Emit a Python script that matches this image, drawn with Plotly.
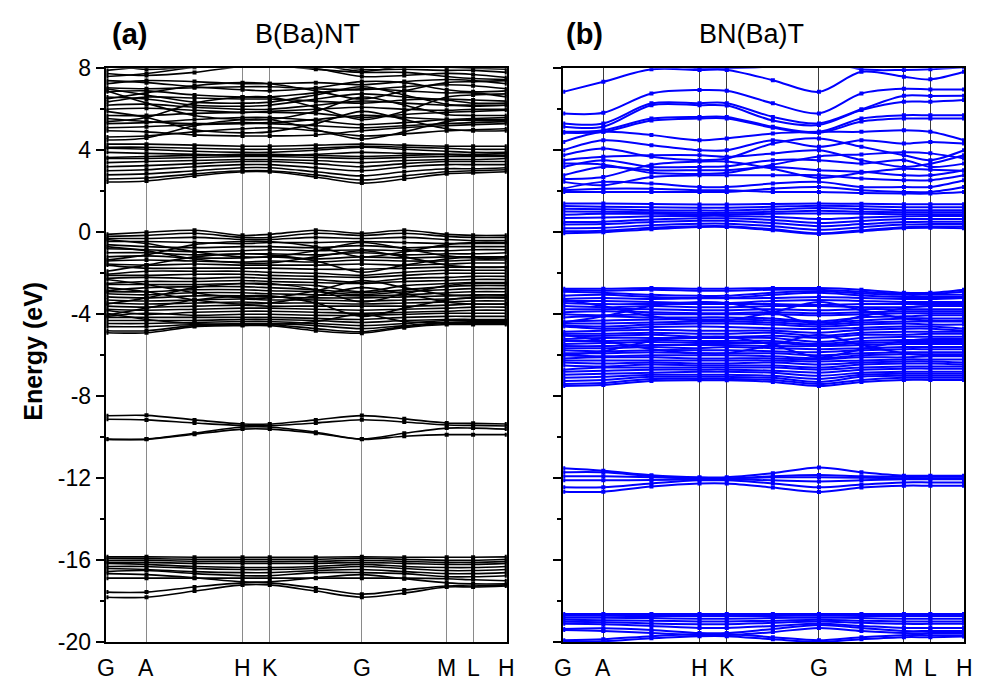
import plotly.graph_objects as go

# ---------------------------------------------------------------------------
# k-path: node positions along the path (fraction of total length)
# nodes: G, A, (A-H), H, K, (K-G), G, (G-M), M, L, H
# ---------------------------------------------------------------------------
K_NODES = [0.0, 0.10, 0.22, 0.34, 0.408, 0.523, 0.638, 0.744, 0.85, 0.916, 1.0]
SYM_POS = [0.0, 0.10, 0.34, 0.408, 0.638, 0.85, 0.916, 1.0]
SYM_LABELS = ["G", "A", "H", "K", "G", "M", "L", "H"]

Y_TICKS = [8, 4, 0, -4, -8, -12, -16, -20]
Y_LABELS = ["8", "4", "0", "-4", "-8", "-12", "-16", "-20"]
Y_MINOR = [6, 2, -2, -6, -10, -14, -18]

# ---------------------------------------------------------------------------
# (a) B(Ba)NT  -- band energies (eV) at the k-path nodes
# ---------------------------------------------------------------------------
A_COND = [
    [2.45, 2.5, 2.75, 2.95, 2.95, 2.7, 2.4, 2.6, 2.85, 2.9, 2.95],
    [2.6, 2.65, 2.85, 3.0, 3.0, 2.8, 2.55, 2.75, 2.95, 3.0, 3.05],
    [2.8, 2.85, 3.0, 3.15, 3.15, 2.95, 2.75, 2.95, 3.1, 3.1, 3.15],
    [3.0, 3.05, 3.2, 3.3, 3.3, 3.15, 3.0, 3.2, 3.3, 3.3, 3.3],
    [3.2, 3.25, 3.35, 3.45, 3.45, 3.35, 3.2, 3.35, 3.45, 3.45, 3.45],
    [3.4, 3.45, 3.5, 3.55, 3.55, 3.5, 3.4, 3.5, 3.55, 3.55, 3.6],
    [3.6, 3.6, 3.65, 3.7, 3.7, 3.65, 3.6, 3.65, 3.7, 3.7, 3.7],
    [3.65, 3.7, 3.75, 3.8, 3.8, 3.75, 3.7, 3.75, 3.8, 3.8, 3.85],
    [3.9, 3.85, 3.8, 3.75, 3.75, 3.8, 3.9, 3.85, 3.8, 3.75, 3.75],
    [4.1, 4.05, 3.95, 3.9, 3.9, 4.0, 4.15, 4.05, 3.95, 3.9, 3.9],
    [4.15, 4.15, 4.1, 4.05, 4.05, 4.1, 4.2, 4.15, 4.1, 4.05, 4.05],
    [4.3, 4.3, 4.25, 4.2, 4.2, 4.25, 4.3, 4.25, 4.2, 4.2, 4.2],
    [4.65, 4.7, 4.9, 5.05, 5.1, 4.95, 4.7, 4.8, 4.95, 5.0, 5.05],
    [4.95, 4.9, 4.75, 4.7, 4.7, 4.75, 4.95, 5.1, 5.2, 5.25, 5.3],
    [5.1, 5.15, 5.25, 5.3, 5.3, 5.2, 5.1, 5.2, 5.3, 5.35, 5.4],
    [5.3, 5.35, 5.5, 5.6, 5.6, 5.45, 5.25, 5.35, 5.5, 5.55, 5.6],
    [5.55, 5.4, 5.3, 5.35, 5.35, 5.5, 5.7, 5.6, 5.5, 5.45, 5.45],
    [5.7, 5.7, 5.8, 5.85, 5.85, 5.8, 5.6, 5.75, 5.85, 5.9, 5.95],
    [6.0, 6.05, 5.95, 5.85, 5.9, 6.0, 6.1, 6.0, 5.95, 6.0, 6.0],
    [6.2, 6.25, 6.1, 6.0, 6.0, 6.2, 6.4, 6.3, 6.2, 6.15, 6.2],
    [6.35, 6.6, 6.55, 6.5, 6.5, 6.4, 6.3, 6.45, 6.5, 6.45, 6.4],
    [6.6, 6.5, 6.2, 6.15, 6.2, 6.5, 6.75, 6.6, 6.45, 6.3, 6.3],
    [6.85, 6.9, 6.7, 6.6, 6.6, 6.8, 7.0, 6.9, 6.8, 6.8, 6.6],
    [7.05, 7.0, 7.05, 7.1, 7.1, 7.0, 6.95, 7.1, 7.2, 7.15, 7.0],
    [7.25, 7.4, 7.35, 7.25, 7.25, 7.3, 7.2, 7.35, 7.45, 7.4, 7.25],
    [7.4, 7.3, 7.1, 6.95, 6.9, 7.05, 7.35, 7.3, 6.95, 6.85, 6.9],
    [7.6, 7.75, 8.05, 8.3, 8.3, 8.0, 7.6, 7.65, 7.75, 7.7, 7.55],
    [7.75, 7.65, 7.8, 8.1, 8.15, 7.95, 7.8, 7.8, 7.6, 7.5, 7.45],
    [7.9, 8.1, 8.4, 8.6, 8.6, 8.3, 7.95, 7.95, 7.9, 7.9, 7.8],
    [8.2, 7.95, 8.1, 8.4, 8.45, 8.2, 7.85, 8.1, 8.05, 8.0, 7.95],
    [4.5, 4.6, 5.2, 5.5, 5.5, 5.0, 4.55, 4.9, 5.4, 5.5, 5.5],
    [5.9, 5.6, 5.0, 4.85, 4.9, 5.3, 5.9, 5.5, 5.05, 4.95, 4.95],
    [6.5, 6.8, 7.15, 7.3, 7.25, 6.9, 6.5, 6.9, 7.3, 7.35, 7.4],
    [7.0, 6.7, 6.35, 6.3, 6.35, 6.7, 7.1, 6.7, 6.25, 6.2, 6.2],
    [5.4, 5.6, 6.3, 6.6, 6.6, 6.1, 5.5, 5.9, 6.6, 6.7, 6.75],
    [6.9, 6.3, 5.7, 5.5, 5.5, 5.9, 6.6, 6.2, 5.75, 5.7, 5.7],
]

A_VAL = [
    [-0.1, 0.0, 0.1, -0.15, -0.1, 0.1, -0.05, 0.1, -0.1, -0.15, -0.15],
    [-0.2, -0.15, -0.05, -0.25, -0.25, -0.05, -0.15, -0.05, -0.2, -0.25, -0.25],
    [-0.3, -0.3, -0.25, -0.35, -0.35, -0.25, -0.3, -0.25, -0.35, -0.4, -0.4],
    [-0.45, -0.45, -0.5, -0.55, -0.5, -0.5, -0.45, -0.5, -0.55, -0.55, -0.55],
    [-0.6, -0.7, -0.75, -0.7, -0.7, -0.75, -0.65, -0.75, -0.7, -0.7, -0.7],
    [-0.8, -0.85, -0.95, -0.9, -0.85, -0.9, -0.85, -0.9, -0.9, -0.85, -0.85],
    [-1.0, -1.0, -1.1, -1.05, -1.05, -1.1, -1.0, -1.1, -1.05, -1.05, -1.0],
    [-1.2, -1.15, -1.25, -1.25, -1.2, -1.3, -1.2, -1.25, -1.2, -1.2, -1.2],
    [-1.4, -1.35, -1.4, -1.45, -1.4, -1.45, -1.35, -1.4, -1.4, -1.35, -1.35],
    [-1.55, -1.6, -1.55, -1.6, -1.6, -1.6, -1.55, -1.6, -1.55, -1.5, -1.5],
    [-1.6, -1.75, -1.75, -1.75, -1.75, -1.8, -1.8, -1.75, -1.7, -1.7, -1.7],
    [-2.05, -1.9, -1.9, -1.9, -1.95, -2.0, -2.1, -1.95, -1.85, -1.85, -1.85],
    [-2.1, -2.1, -2.05, -2.05, -2.1, -2.15, -2.2, -2.1, -2.0, -2.0, -2.0],
    [-2.25, -2.2, -2.25, -2.2, -2.25, -2.3, -2.45, -2.25, -2.2, -2.15, -2.15],
    [-2.5, -2.4, -2.4, -2.35, -2.4, -2.45, -2.5, -2.4, -2.35, -2.3, -2.3],
    [-2.55, -2.55, -2.55, -2.5, -2.55, -2.6, -2.9, -2.6, -2.5, -2.45, -2.45],
    [-2.85, -2.7, -2.65, -2.65, -2.7, -2.8, -2.95, -2.8, -2.65, -2.6, -2.6],
    [-2.9, -2.9, -2.8, -2.8, -2.85, -2.9, -3.05, -2.9, -2.8, -2.75, -2.75],
    [-3.0, -3.05, -2.95, -2.95, -3.0, -3.05, -3.1, -3.05, -2.95, -2.9, -2.9],
    [-3.15, -3.2, -3.1, -3.1, -3.15, -3.2, -3.2, -3.15, -3.1, -3.05, -3.05],
    [-3.3, -3.35, -3.3, -3.25, -3.3, -3.3, -3.35, -3.3, -3.25, -3.2, -3.2],
    [-3.45, -3.5, -3.45, -3.4, -3.45, -3.45, -3.5, -3.45, -3.4, -3.35, -3.35],
    [-3.6, -3.65, -3.6, -3.55, -3.6, -3.6, -3.6, -3.6, -3.55, -3.5, -3.5],
    [-3.75, -3.8, -3.75, -3.7, -3.7, -3.75, -3.8, -3.75, -3.7, -3.65, -3.65],
    [-3.8, -4.0, -3.9, -3.85, -3.85, -3.9, -3.95, -3.9, -3.85, -3.8, -3.8],
    [-4.1, -3.95, -4.05, -4.0, -4.0, -4.05, -4.05, -4.0, -3.95, -3.95, -3.95],
    [-4.15, -4.15, -4.15, -4.15, -4.15, -4.2, -4.25, -4.15, -4.1, -4.1, -4.1],
    [-4.3, -4.3, -4.3, -4.25, -4.25, -4.3, -4.4, -4.3, -4.25, -4.25, -4.25],
    [-4.45, -4.45, -4.4, -4.35, -4.35, -4.45, -4.55, -4.45, -4.3, -4.3, -4.3],
    [-4.6, -4.6, -4.5, -4.45, -4.45, -4.55, -4.7, -4.55, -4.4, -4.4, -4.4],
    [-4.8, -4.8, -4.55, -4.5, -4.5, -4.7, -4.85, -4.6, -4.45, -4.45, -4.45],
    [-4.9, -4.9, -4.6, -4.55, -4.55, -4.8, -4.92, -4.65, -4.5, -4.5, -4.5],
    [-0.7, -0.9, -1.3, -1.5, -1.5, -1.2, -0.9, -1.2, -1.6, -1.7, -1.7],
    [-1.9, -1.6, -1.2, -1.05, -1.1, -1.4, -1.95, -1.6, -1.3, -1.2, -1.2],
    [-2.7, -2.9, -3.3, -3.5, -3.45, -3.1, -2.7, -3.0, -3.4, -3.5, -3.5],
    [-3.5, -3.2, -2.7, -2.5, -2.5, -2.8, -3.4, -3.0, -2.6, -2.5, -2.5],
    [-0.35, -0.55, -0.95, -1.2, -1.2, -0.9, -0.5, -0.8, -1.15, -1.25, -1.25],
    [-1.35, -1.1, -0.6, -0.45, -0.45, -0.7, -1.2, -0.95, -0.6, -0.5, -0.5],
    [-2.3, -2.55, -2.95, -3.2, -3.2, -2.85, -2.35, -2.7, -3.05, -3.1, -3.1],
    [-4.05, -3.7, -3.3, -3.1, -3.1, -3.45, -4.1, -3.7, -3.3, -3.2, -3.2],
    [-3.95, -4.25, -4.45, -4.5, -4.5, -4.35, -4.0, -4.35, -4.4, -4.35, -4.35],
]

A_SEMI = [
    [-8.95, -8.93, -9.15, -9.35, -9.35, -9.15, -8.94, -9.1, -9.3, -9.32, -9.35],
    [-9.12, -9.15, -9.3, -9.43, -9.43, -9.3, -9.14, -9.25, -9.4, -9.42, -9.45],
    [-10.08, -10.08, -9.8, -9.5, -9.5, -9.75, -10.08, -9.8, -9.55, -9.55, -9.6],
    [-10.1, -10.1, -9.85, -9.6, -9.6, -9.8, -10.1, -9.95, -9.87, -9.87, -9.87],
]

A_DEEP = [
    [-15.83, -15.83, -15.85, -15.85, -15.85, -15.85, -15.83, -15.85, -15.85, -15.85, -15.83],
    [-15.9, -15.92, -15.95, -15.95, -15.95, -15.95, -15.9, -15.95, -16.0, -16.0, -15.95],
    [-16.0, -16.0, -16.05, -16.05, -16.05, -16.05, -16.0, -16.05, -16.1, -16.1, -16.05],
    [-16.1, -16.1, -16.15, -16.15, -16.15, -16.15, -16.1, -16.15, -16.2, -16.2, -16.15],
    [-16.15, -16.2, -16.3, -16.35, -16.35, -16.3, -16.2, -16.3, -16.35, -16.35, -16.3],
    [-16.3, -16.3, -16.4, -16.45, -16.45, -16.4, -16.3, -16.4, -16.5, -16.5, -16.45],
    [-16.4, -16.45, -16.55, -16.6, -16.6, -16.5, -16.45, -16.55, -16.65, -16.65, -16.6],
    [-16.55, -16.5, -16.65, -16.75, -16.75, -16.6, -16.6, -16.65, -16.8, -16.8, -16.75],
    [-16.87, -16.87, -16.87, -16.87, -16.87, -16.87, -16.87, -16.87, -16.9, -16.95, -17.0],
    [-16.65, -16.7, -16.85, -17.05, -17.05, -16.85, -16.7, -16.9, -17.1, -17.15, -17.15],
    [-17.55, -17.55, -17.3, -17.1, -17.1, -17.35, -17.65, -17.45, -17.25, -17.25, -17.2],
    [-17.8, -17.8, -17.5, -17.2, -17.2, -17.5, -17.8, -17.6, -17.3, -17.3, -17.25],
]

# ---------------------------------------------------------------------------
# (b) BN(Ba)T  -- band energies (eV) at the k-path nodes
# ---------------------------------------------------------------------------
B_COND_HI = [
    [8.3, 8.3, 8.2, 8.0, 8.0, 8.1, 8.4, 7.95, 7.92, 7.95, 8.05],
    [6.85, 7.34, 7.95, 7.92, 7.92, 7.42, 6.85, 7.83, 7.59, 7.46, 7.83],
    [5.8, 5.83, 6.77, 6.94, 6.9, 6.29, 5.8, 6.77, 7.0, 6.97, 6.97],
    [5.31, 5.31, 6.29, 6.3, 6.3, 5.63, 5.31, 6.0, 6.66, 6.65, 6.66],
    [5.15, 5.15, 6.2, 6.2, 6.18, 5.45, 5.23, 5.96, 6.37, 6.37, 6.45],
    [4.9, 4.98, 5.55, 5.63, 5.63, 5.15, 4.9, 5.55, 5.71, 5.71, 5.71],
    [4.85, 4.9, 5.45, 5.55, 5.55, 5.1, 4.85, 5.4, 5.55, 5.55, 5.55],
    [4.41, 4.9, 4.74, 4.49, 4.58, 4.82, 4.9, 4.9, 4.98, 4.9, 4.49],
    [4.0, 4.49, 4.25, 4.0, 4.0, 4.49, 4.17, 4.49, 4.33, 4.41, 4.33],
    [3.76, 4.09, 3.68, 3.52, 3.6, 4.33, 4.58, 4.17, 3.76, 3.52, 4.0],
    [3.52, 3.68, 3.76, 3.76, 3.68, 3.84, 4.0, 3.52, 3.19, 3.35, 3.76],
    [3.19, 3.52, 3.19, 3.19, 3.22, 3.52, 3.52, 3.35, 3.52, 3.19, 3.35],
    [2.78, 3.19, 3.03, 3.03, 3.03, 3.19, 3.03, 2.95, 2.78, 2.78, 3.03],
    [2.46, 2.30, 2.70, 2.78, 2.78, 2.78, 2.78, 2.62, 2.54, 2.54, 2.78],
    [2.13, 2.46, 2.38, 2.21, 2.21, 2.38, 2.46, 2.21, 2.21, 2.21, 2.54],
    [1.97, 1.97, 1.97, 1.97, 1.97, 2.13, 2.21, 2.05, 1.97, 1.97, 2.21],
    [2.05, 2.13, 2.13, 2.05, 2.05, 1.97, 1.97, 1.92, 1.89, 1.89, 1.97],
    [2.6, 2.7, 3.3, 3.45, 3.45, 3.1, 2.65, 2.9, 3.1, 3.05, 3.0],
    [3.35, 3.3, 2.9, 2.85, 2.9, 3.3, 3.7, 3.8, 3.9, 3.85, 3.6],
]

B_COND_LO = [
    [1.40, 1.40, 1.38, 1.36, 1.36, 1.38, 1.40, 1.39, 1.37, 1.37, 1.37],
    [1.28, 1.25, 1.22, 1.20, 1.20, 1.25, 1.30, 1.27, 1.22, 1.22, 1.22],
    [1.15, 1.12, 1.08, 1.06, 1.06, 1.12, 1.18, 1.14, 1.08, 1.08, 1.08],
    [1.02, 1.0, 0.98, 0.95, 0.95, 1.0, 1.05, 1.0, 0.98, 0.98, 0.98],
    [0.85, 0.9, 0.9, 0.88, 0.88, 0.9, 0.92, 0.9, 0.88, 0.88, 0.88],
    [0.70, 0.72, 0.78, 0.80, 0.8, 0.76, 0.65, 0.72, 0.78, 0.8, 0.8],
    [0.5, 0.52, 0.62, 0.68, 0.68, 0.6, 0.45, 0.55, 0.65, 0.65, 0.65],
    [0.38, 0.40, 0.5, 0.56, 0.56, 0.45, 0.3, 0.4, 0.5, 0.52, 0.52],
    [0.2, 0.22, 0.35, 0.42, 0.42, 0.3, 0.12, 0.25, 0.38, 0.4, 0.4],
    [0.05, 0.08, 0.22, 0.3, 0.3, 0.15, -0.05, 0.1, 0.25, 0.28, 0.28],
    [-0.05, 0.0, 0.15, 0.26, 0.26, 0.1, -0.08, 0.05, 0.2, 0.22, 0.2],
]

B_VAL = [
    [-2.75, -2.75, -2.72, -2.75, -2.75, -2.72, -2.72, -2.8, -2.95, -2.95, -2.8],
    [-2.82, -2.85, -2.8, -2.85, -2.85, -2.8, -2.8, -2.9, -3.0, -3.0, -2.9],
    [-2.9, -2.95, -3.05, -3.1, -3.1, -2.95, -2.88, -2.98, -3.05, -3.05, -3.05],
    [-3.1, -3.05, -3.15, -3.2, -3.2, -3.05, -2.95, -3.08, -3.15, -3.15, -3.15],
    [-3.25, -3.2, -3.25, -3.22, -3.22, -3.2, -3.15, -3.2, -3.25, -3.25, -3.2],
    [-3.35, -3.35, -3.4, -3.45, -3.45, -3.35, -3.3, -3.35, -3.4, -3.4, -3.4],
    [-3.45, -3.5, -3.5, -3.5, -3.5, -3.5, -3.55, -3.5, -3.5, -3.5, -3.5],
    [-3.6, -3.65, -3.6, -3.65, -3.65, -3.6, -3.6, -3.65, -3.65, -3.6, -3.6],
    [-3.75, -3.75, -3.75, -3.8, -3.8, -3.75, -3.8, -3.75, -3.75, -3.75, -3.75],
    [-3.9, -3.85, -3.9, -3.95, -3.95, -3.9, -3.95, -3.9, -3.85, -3.85, -3.85],
    [-4.0, -4.05, -4.0, -4.0, -4.0, -4.0, -4.05, -4.0, -3.95, -3.95, -3.95],
    [-4.15, -4.1, -4.15, -4.15, -4.15, -4.2, -4.35, -4.15, -4.1, -4.05, -4.05],
    [-4.35, -4.3, -4.25, -4.25, -4.25, -4.3, -4.4, -4.3, -4.2, -4.2, -4.2],
    [-4.45, -4.45, -4.4, -4.35, -4.35, -4.4, -4.5, -4.4, -4.35, -4.35, -4.35],
    [-4.55, -4.6, -4.5, -4.45, -4.45, -4.5, -4.6, -4.5, -4.45, -4.5, -4.5],
    [-4.6, -4.7, -4.62, -4.6, -4.62, -4.68, -4.72, -4.65, -4.6, -4.6, -4.7],
    [-4.85, -4.8, -4.75, -4.8, -4.8, -4.8, -4.9, -4.75, -4.7, -4.7, -4.8],
    [-4.95, -4.95, -4.9, -4.95, -4.95, -4.9, -5.05, -4.9, -4.85, -4.85, -4.85],
    [-5.05, -5.05, -5.0, -5.1, -5.1, -5.05, -5.15, -5.0, -5.0, -4.95, -4.95],
    [-5.2, -5.15, -5.15, -5.15, -5.15, -5.15, -5.35, -5.15, -5.1, -5.1, -5.1],
    [-5.3, -5.3, -5.25, -5.3, -5.3, -5.3, -5.45, -5.3, -5.25, -5.25, -5.25],
    [-5.45, -5.4, -5.35, -5.4, -5.4, -5.4, -5.5, -5.4, -5.35, -5.35, -5.35],
    [-5.55, -5.55, -5.5, -5.5, -5.5, -5.55, -5.55, -5.5, -5.45, -5.45, -5.45],
    [-5.65, -5.65, -5.6, -5.65, -5.6, -5.65, -5.7, -5.65, -5.6, -5.6, -5.6],
    [-5.75, -5.8, -5.75, -5.75, -5.75, -5.8, -5.85, -5.75, -5.7, -5.7, -5.7],
    [-5.9, -5.9, -5.85, -5.9, -5.9, -5.9, -6.0, -5.9, -5.85, -5.85, -5.85],
    [-6.0, -6.05, -6.0, -6.0, -6.0, -6.05, -6.15, -6.0, -5.95, -5.95, -5.95],
    [-6.15, -6.1, -6.1, -6.15, -6.15, -6.15, -6.2, -6.1, -6.1, -6.05, -6.05],
    [-6.25, -6.25, -6.25, -6.25, -6.25, -6.25, -6.3, -6.25, -6.2, -6.2, -6.2],
    [-6.35, -6.4, -6.35, -6.4, -6.4, -6.35, -6.45, -6.35, -6.3, -6.3, -6.35],
    [-6.5, -6.55, -6.45, -6.5, -6.5, -6.5, -6.6, -6.45, -6.4, -6.4, -6.45],
    [-6.7, -6.6, -6.6, -6.6, -6.6, -6.6, -6.7, -6.6, -6.55, -6.55, -6.55],
    [-6.8, -6.75, -6.7, -6.7, -6.7, -6.75, -6.85, -6.7, -6.65, -6.65, -6.65],
    [-6.95, -6.9, -6.85, -6.8, -6.8, -6.85, -7.0, -6.85, -6.8, -6.8, -6.8],
    [-7.1, -7.05, -6.95, -6.95, -6.95, -7.0, -7.15, -6.95, -6.9, -6.9, -6.9],
    [-7.25, -7.2, -7.05, -7.05, -7.05, -7.1, -7.3, -7.05, -7.0, -7.0, -7.0],
    [-7.4, -7.35, -7.15, -7.15, -7.15, -7.2, -7.4, -7.2, -7.1, -7.1, -7.1],
    [-7.5, -7.45, -7.25, -7.22, -7.22, -7.3, -7.5, -7.3, -7.2, -7.2, -7.2],
    [-3.3, -3.6, -4.1, -4.3, -4.3, -3.9, -3.4, -3.8, -4.2, -4.3, -4.3],
    [-4.4, -4.1, -3.6, -3.4, -3.45, -3.9, -4.5, -4.1, -3.7, -3.6, -3.6],
    [-5.0, -5.3, -5.7, -5.9, -5.9, -5.5, -5.0, -5.5, -5.9, -6.0, -6.0],
    [-6.0, -5.8, -5.3, -5.1, -5.1, -5.5, -6.1, -5.7, -5.3, -5.2, -5.2],
]

B_SEMI = [
    [-11.51, -11.63, -11.85, -11.95, -11.95, -11.75, -11.47, -11.7, -11.87, -11.87, -11.87],
    [-11.71, -11.71, -11.9, -12.03, -12.03, -11.9, -11.84, -11.9, -11.93, -11.93, -11.93],
    [-11.9, -11.9, -11.95, -12.0, -12.0, -11.95, -11.95, -11.97, -12.0, -12.0, -12.0],
    [-12.1, -12.1, -12.08, -12.05, -12.05, -12.1, -12.15, -12.1, -12.05, -12.05, -12.05],
    [-12.44, -12.44, -12.25, -12.1, -12.1, -12.25, -12.44, -12.3, -12.2, -12.2, -12.2],
    [-12.65, -12.65, -12.4, -12.25, -12.25, -12.45, -12.67, -12.45, -12.36, -12.36, -12.36],
]

B_DEEP = [
    [-18.62, -18.62, -18.62, -18.62, -18.62, -18.62, -18.62, -18.62, -18.62, -18.62, -18.62],
    [-18.7, -18.7, -18.72, -18.72, -18.72, -18.72, -18.7, -18.72, -18.72, -18.72, -18.72],
    [-18.8, -18.8, -18.82, -18.85, -18.85, -18.82, -18.8, -18.82, -18.85, -18.85, -18.85],
    [-18.9, -18.92, -18.95, -18.98, -18.98, -18.95, -18.9, -18.95, -18.98, -18.98, -18.98],
    [-19.0, -19.02, -19.08, -19.12, -19.12, -19.05, -18.98, -19.05, -19.1, -19.1, -19.1],
    [-19.1, -19.12, -19.2, -19.3, -19.3, -19.2, -19.1, -19.2, -19.3, -19.3, -19.3],
    [-19.35, -19.32, -19.4, -19.55, -19.55, -19.35, -19.15, -19.3, -19.45, -19.45, -19.45],
    [-19.4, -19.45, -19.55, -19.65, -19.65, -19.5, -19.3, -19.45, -19.55, -19.55, -19.55],
    [-19.9, -19.85, -19.7, -19.6, -19.6, -19.75, -19.9, -19.75, -19.65, -19.65, -19.65],
    [-19.95, -19.95, -19.8, -19.7, -19.7, -19.85, -19.98, -19.85, -19.75, -19.75, -19.72],
]

FONT = "Arial, Liberation Sans, Helvetica, sans-serif"
BLACK = "#000000"
BLUE = "#0000ff"


def band_trace(groups, color, width, xa, ya):
    """All bands of one panel as a single gapped line+marker trace."""
    xs, ys = [], []
    for group in groups:
        for band in group:
            xs += K_NODES + [None]
            ys += band + [None]
    return go.Scatter(
        x=xs, y=ys, mode="lines+markers",
        line=dict(color=color, width=width, shape="spline", smoothing=0.9),
        marker=dict(symbol="square", size=4, color=color, line=dict(width=0)),
        xaxis=xa, yaxis=ya, hoverinfo="skip", showlegend=False,
        connectgaps=False,
    )


fig = go.Figure()
fig.add_trace(band_trace([A_COND, A_VAL, A_SEMI, A_DEEP], BLACK, 1.6, "x", "y"))
fig.add_trace(band_trace([B_COND_HI, B_COND_LO, B_VAL, B_SEMI, B_DEEP], BLUE, 2.0, "x2", "y2"))

Y_DOMAIN = [0.0508, 0.9166]


def xaxis_cfg(domain, gridcolor, anchor):
    return dict(
        domain=domain, range=[0, 1], anchor=anchor, tickmode="array",
        tickvals=SYM_POS, showticklabels=False, ticks="",
        showgrid=True, gridcolor=gridcolor, gridwidth=1,
        zeroline=False, showline=True, mirror=True,
        linecolor="black", linewidth=1.5,
    )


def yaxis_cfg(anchor, labels):
    return dict(
        domain=Y_DOMAIN, range=[-20, 8], anchor=anchor,
        tickmode="array", tickvals=Y_TICKS, ticktext=Y_LABELS,
        showticklabels=labels,
        ticks="outside", ticklen=9, tickwidth=1.5, tickcolor="black",
        minor=dict(tickmode="array", tickvals=Y_MINOR,
                   ticks="outside", ticklen=5, tickwidth=1.5, tickcolor="black"),
        showgrid=False, zeroline=False, showline=True, mirror=True,
        linecolor="black", linewidth=1.5,
        tickfont=dict(family=FONT, size=23, color="black"),
    )


def label(text, x, y, size, angle=0, xref="paper"):
    return dict(text=text, x=x, y=y, xref=xref, yref="paper",
                xanchor="center", yanchor="middle", textangle=angle,
                showarrow=False, font=dict(family=FONT, size=size, color="black"))


annotations = [
    label("<b>(a)</b>", 0.1322, 0.9689, 29),
    label("B(Ba)NT", 0.3133, 0.9689, 27),
    label("<b>(b)</b>", 0.5951, 0.9689, 29),
    label("BN(Ba)T", 0.7650, 0.9689, 27),
    label("<b>Energy (eV)</b>", 0.0336, 0.4891, 25, -90),
]
# high-symmetry point labels under each panel
for xref in ("x", "x2"):
    for pos, name in zip(SYM_POS, SYM_LABELS):
        annotations.append(label(name, pos, 0.0125, 23, xref=xref))

fig.update_layout(
    width=983, height=689,
    margin=dict(l=0, r=0, t=0, b=0),
    paper_bgcolor="white", plot_bgcolor="white",
    showlegend=False,
    xaxis=xaxis_cfg([0.1083, 0.5155], "#8a8a8a", "y"),
    xaxis2=xaxis_cfg([0.5730, 0.9807], "#3a3a3a", "y2"),
    yaxis=yaxis_cfg("x", True),
    yaxis2=yaxis_cfg("x2", False),
    annotations=annotations,
)

fig.write_html("out.html")
